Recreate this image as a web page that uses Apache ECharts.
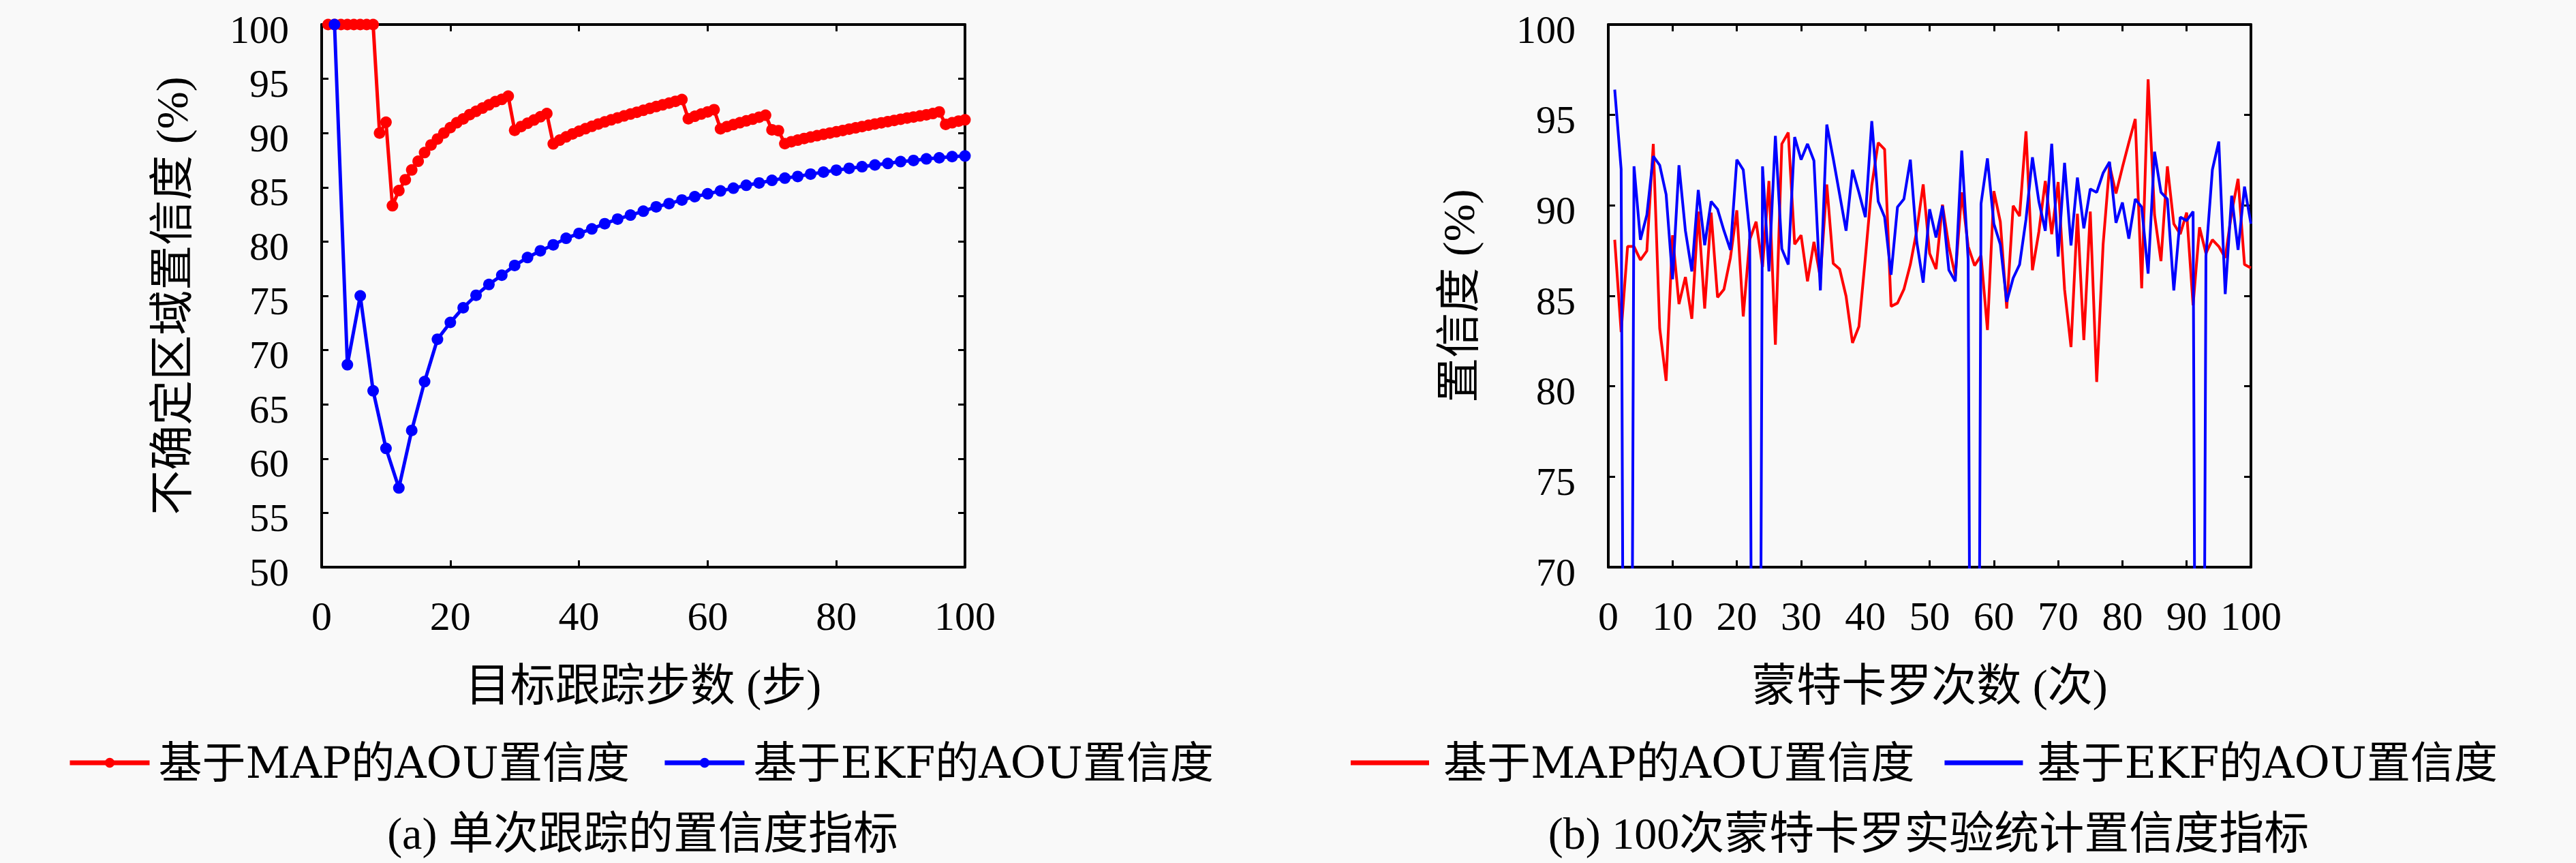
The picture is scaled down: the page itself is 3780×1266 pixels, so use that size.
<!DOCTYPE html>
<html>
<head>
<meta charset="utf-8">
<script src="https://cdn.jsdelivr.net/npm/echarts@6/dist/echarts.min.js"></script>
<style>
html,body{margin:0;padding:0;background:#f9f9f9;}
#c{width:3780px;height:1266px;}
</style>
</head>
<body>
<div id="c"></div>
<script>
// ---------- data: panel (a) single tracking run ----------
var mapSingle = [
100,100,100,100,100,100,100,100,90.0,91.0,
83.3,84.7,85.7,86.6,87.4,88.2,88.9,89.45,90.0,90.5,
90.95,91.3,91.7,92.0,92.3,92.6,92.9,93.1,93.4,90.25,
90.6,90.9,91.2,91.5,91.8,89.0,89.35,89.65,89.92,90.17,
90.4,90.62,90.83,91.03,91.22,91.4,91.58,91.75,91.92,92.1,
92.27,92.44,92.6,92.76,92.92,93.09,91.32,91.55,91.75,91.95,
92.15,90.39,90.6,90.78,90.95,91.12,91.28,91.46,91.64,90.3,
90.22,89.03,89.2,89.35,89.5,89.63,89.76,89.88,90.0,90.12,
90.24,90.36,90.48,90.6,90.72,90.83,90.94,91.05,91.16,91.27,
91.38,91.48,91.58,91.68,91.8,91.95,90.8,90.95,91.1,91.22
];
// EKF values at steps 2,4,...,100
var ekfSingle = [
100,68.65,75.0,66.25,60.94,57.3,62.6,67.1,71.0,72.55,
73.9,75.05,76.05,76.9,77.8,78.53,79.15,79.7,80.3,80.75,
81.17,81.65,82.07,82.44,82.8,83.2,83.5,83.83,84.14,84.4,
84.67,84.92,85.19,85.4,85.64,85.85,86.0,86.22,86.4,86.58,
86.75,86.9,87.06,87.2,87.37,87.47,87.62,87.72,87.83,87.89
];
// ---------- data: panel (b) 100 Monte Carlo runs ----------
var mapMC = [
88.1,83.0,87.73,87.73,86.98,87.48,93.4,83.2,80.3,88.35,
84.55,86.04,83.73,89.66,84.3,89.6,84.92,85.36,87.1,89.73,
83.86,88.1,89.1,86.6,91.35,82.3,93.4,94.03,87.85,88.35,
85.8,87.98,86.0,91.16,86.79,86.48,84.98,82.4,83.3,87.1,
91.1,93.47,93.1,84.42,84.6,85.36,86.73,88.6,91.16,87.35,
86.48,90.04,87.73,86.1,90.72,87.73,86.67,87.23,83.11,90.79,
89.1,84.3,89.98,89.41,94.1,86.42,88.54,91.35,88.41,91.29,
85.36,82.17,89.54,82.55,89.66,80.24,87.85,92.22,90.66,92.1,
93.47,94.78,85.42,96.97,89.48,86.92,92.16,88.98,88.41,89.6,
84.48,88.79,87.35,88.1,87.73,87.1,89.6,91.47,86.73,86.54
];
var ekfMC = [
96.4,92.0,0,92.16,88.1,89.48,92.72,92.22,90.6,85.92,
92.22,88.6,86.35,90.85,87.8,90.22,89.79,88.6,87.54,92.53,
91.97,88.48,0,92.16,86.35,93.84,87.6,86.73,93.78,92.53,
93.4,92.47,85.3,94.47,92.6,90.6,88.6,91.97,90.72,89.35,
94.66,90.22,89.35,86.17,89.91,90.35,92.53,87.98,85.73,89.79,
88.23,89.98,86.42,85.8,93.03,87.0,0,90.1,92.6,88.98,
87.85,84.67,85.98,86.73,89.23,92.66,90.22,88.6,93.41,87.17,
92.35,87.79,91.54,88.73,90.91,90.72,91.79,92.41,89.04,90.16,
88.16,90.35,89.91,86.23,92.97,90.72,90.35,85.3,89.35,89.16,
89.66,0,87.2,91.97,93.53,85.1,90.54,87.54,91.04,88.98
];
var nameMAP = '基于MAP的AOU置信度';
var nameEKF = '基于EKF的AOU置信度';
var xNameA = '目标跟踪步数 (步)';
var yNameA = '不确定区域置信度 (%)';
var xNameB = '蒙特卡罗次数 (次)';
var yNameB = '置信度 (%)';
var captionA = '(a) 单次跟踪的置信度指标';
var captionB = '(b) 100次蒙特卡罗实验统计置信度指标';

function pairs(vals, step) {
  return vals.map(function (v, i) { return [(i + 1) * step, v]; });
}

var FONT = '"Liberation Serif", "Noto Sans CJK SC", serif';
var LFONT = '"DejaVu Serif", "Noto Sans CJK SC", serif';
var RED = '#ff0000', BLUE = '#0000ff';

function frameAxis(base, extra) {
  var o = {
    type: 'value',
    axisLine: { show: true, onZero: false, lineStyle: { color: '#000', width: 4 } },
    axisTick: { show: true, inside: true, length: 10, lineStyle: { color: '#000', width: 3 } },
    splitLine: { show: false },
    axisLabel: { show: false }
  };
  for (var k in base) o[k] = base[k];
  for (var k2 in extra) o[k2] = extra[k2];
  return o;
}
function xlbl() {
  return { show: true, fontFamily: FONT, fontSize: 60, lineHeight: 48, color: '#000', margin: 48 };
}
function ylbl() {
  return {
    show: true, margin: 48, color: '#000',
    formatter: '{v|{value}}',
    rich: { v: { fontFamily: FONT, fontSize: 58, lineHeight: 52, color: '#000', padding: [14, 0, 0, 0] } }
  };
}
var nameStyle = { fontFamily: FONT, fontSize: 66, color: '#000' };

var chart = echarts.init(document.getElementById('c'), null, { renderer: 'svg' });
chart.setOption({
  backgroundColor: '#f9f9f9',
  animation: false,
  grid: [
    { left: 472, right: 3780 - 1416, top: 31, bottom: 1266 - 832 },
    { left: 2360, right: 3780 - 3303, top: 29, bottom: 1266 - 832 }
  ],
  xAxis: [
    frameAxis({ gridIndex: 0, position: 'bottom', min: 0, max: 100, interval: 20 },
      { axisLabel: xlbl(), name: xNameA, nameLocation: 'middle', nameGap: 140, nameTextStyle: nameStyle }),
    frameAxis({ gridIndex: 0, position: 'top', min: 0, max: 100, interval: 20 }, {}),
    frameAxis({ gridIndex: 1, position: 'bottom', min: 0, max: 100, interval: 10 },
      { axisLabel: xlbl(), name: xNameB, nameLocation: 'middle', nameGap: 140, nameTextStyle: nameStyle }),
    frameAxis({ gridIndex: 1, position: 'top', min: 0, max: 100, interval: 10 }, {})
  ],
  yAxis: [
    frameAxis({ gridIndex: 0, position: 'left', min: 50, max: 100, interval: 5 },
      { axisLabel: ylbl(), name: yNameA, nameLocation: 'middle', nameGap: 187, nameTextStyle: nameStyle }),
    frameAxis({ gridIndex: 0, position: 'right', min: 50, max: 100, interval: 5 }, {}),
    frameAxis({ gridIndex: 1, position: 'left', min: 70, max: 100, interval: 5 },
      { axisLabel: ylbl(), name: yNameB, nameLocation: 'middle', nameGap: 187, nameTextStyle: nameStyle }),
    frameAxis({ gridIndex: 1, position: 'right', min: 70, max: 100, interval: 5 }, {})
  ],
  legend: [
    {
      left: 94, top: 1082, orient: 'horizontal',
      itemWidth: 117, itemHeight: 18, itemGap: 48,
      lineStyle: { width: 7 },
      textStyle: { fontFamily: LFONT, fontSize: 64, color: '#000', padding: [0, 0, 0, 8] },
      data: [nameMAP, nameEKF]
    },
    {
      left: 1977, top: 1082, orient: 'horizontal',
      itemWidth: 115, itemHeight: 7, itemGap: 44,
      textStyle: { fontFamily: LFONT, fontSize: 64, color: '#000', padding: [0, 0, 0, 16] },
      data: [
        { name: nameMAP, icon: 'rect', itemStyle: { color: RED, borderWidth: 0 } },
        { name: nameEKF, icon: 'rect', itemStyle: { color: BLUE, borderWidth: 0 } }
      ]
    }
  ],
  graphic: [
    { type: 'text', x: 943, y: 1222, silent: true,
      style: { text: captionA, font: '66px ' + FONT, fill: '#000',
        align: 'center', verticalAlign: 'middle', textAlign: 'center', textVerticalAlign: 'middle' } },
    { type: 'text', x: 2830, y: 1222, silent: true,
      style: { text: captionB, font: '66px ' + FONT, fill: '#000',
        align: 'center', verticalAlign: 'middle', textAlign: 'center', textVerticalAlign: 'middle' } }
  ],
  series: [
    {
      name: nameMAP, type: 'line', xAxisIndex: 0, yAxisIndex: 0,
      data: pairs(mapSingle, 1), symbol: 'circle', symbolSize: 17, showSymbol: true,
      lineStyle: { color: RED, width: 5 }, itemStyle: { color: RED }, clip: false, z: 3
    },
    {
      name: nameEKF, type: 'line', xAxisIndex: 0, yAxisIndex: 0,
      data: pairs(ekfSingle, 2), symbol: 'circle', symbolSize: 17, showSymbol: true,
      lineStyle: { color: BLUE, width: 5 }, itemStyle: { color: BLUE }, clip: false, z: 4
    },
    {
      name: nameMAP, type: 'line', xAxisIndex: 2, yAxisIndex: 2,
      data: pairs(mapMC, 1), symbol: 'none', showSymbol: false,
      lineStyle: { color: RED, width: 4 }, itemStyle: { color: RED }, clip: true, z: 3
    },
    {
      name: nameEKF, type: 'line', xAxisIndex: 2, yAxisIndex: 2,
      data: pairs(ekfMC, 1), symbol: 'none', showSymbol: false,
      lineStyle: { color: BLUE, width: 4 }, itemStyle: { color: BLUE }, clip: true, z: 4
    }
  ]
});
</script>
</body>
</html>
